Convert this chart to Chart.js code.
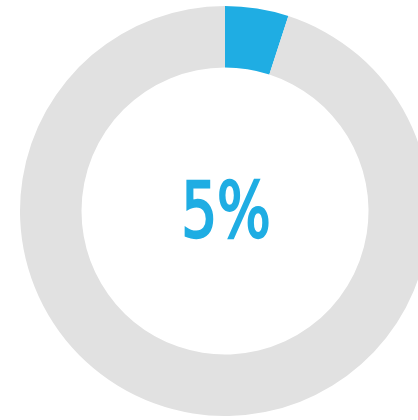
<!DOCTYPE html>
<html>
<head>
<meta charset="utf-8">
<script src="https://cdn.jsdelivr.net/npm/chart.js@4.4.0/dist/chart.umd.min.js"></script>
<style>
  html, body { margin: 0; padding: 0; background: #fff; overflow: hidden; width: 418px; height: 420px; }
  #wrap { position: absolute; left: 20px; top: 6px; width: 410px; height: 410px; }
</style>
</head>
<body>
<div id="wrap"><canvas id="grafico"></canvas></div>
<script>
const labels = ['Concluído', 'Restante'];
const values = [5, 95];
const colors = ['#1fade3', '#e1e1e1'];
const centerLabel = values[0] + '%';

// texto no meio do anel, estreito como a fonte original
const centerText = {
  id: 'centerText',
  afterDraw(chart) {
    const ctx = chart.ctx;
    const meta = chart.getDatasetMeta(0).data[0];
    const cx = meta.x, cy = meta.y;
    ctx.save();
    ctx.font = '84px "Liberation Sans Narrow", "DejaVu Sans Condensed", "Liberation Sans", sans-serif';
    ctx.fillStyle = colors[0];
    ctx.strokeStyle = colors[0];
    ctx.lineWidth = 2.5;
    ctx.lineJoin = 'miter';
    ctx.textAlign = 'center';
    ctx.textBaseline = 'alphabetic';
    const m = ctx.measureText(centerLabel);
    const w = m.actualBoundingBoxLeft + m.actualBoundingBoxRight + 2.5;
    const h = m.actualBoundingBoxAscent + m.actualBoundingBoxDescent + 2.5;
    const sx = 85 / w, sy = 61 / h;
    ctx.translate(cx + 1, cy - 2);
    ctx.scale(sx, sy);
    const y = h / 2 - m.actualBoundingBoxDescent - 1.25;
    ctx.fillText(centerLabel, 0, y);
    ctx.strokeText(centerLabel, 0, y);
    ctx.restore();
  }
};

const config = {
  type: 'doughnut',
  data: {
    labels: labels,
    datasets: [{
      data: values,
      backgroundColor: colors,
      borderWidth: 0,
      hoverOffset: 0
    }]
  },
  options: {
    responsive: true,
    maintainAspectRatio: false,
    animation: false,
    cutout: '70%',
    layout: { padding: 0 },
    plugins: {
      legend: { display: false },
      tooltip: { enabled: false }
    }
  },
  plugins: [centerText]
};

var myChart = new Chart(document.getElementById('grafico'), config);
</script>
</body>
</html>
